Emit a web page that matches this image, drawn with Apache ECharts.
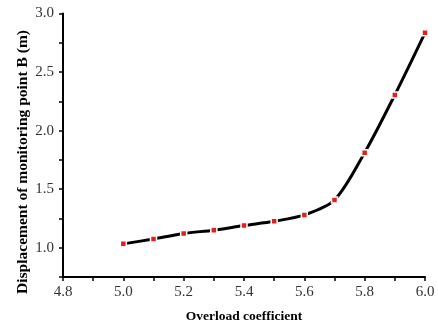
<!DOCTYPE html>
<html>
<head>
<meta charset="utf-8">
<script src="https://cdn.jsdelivr.net/npm/echarts@6/dist/echarts.min.js"></script>
<style>html,body{margin:0;padding:0;background:#fff}#c{width:438px;height:329px}</style>
</head>
<body>
<div id="c"></div>
<script>
var overload = [5.0, 5.1, 5.2, 5.3, 5.4, 5.5, 5.6, 5.7, 5.8, 5.9, 6.0];
var displacement = [1.033, 1.075, 1.122, 1.15, 1.19, 1.226, 1.28, 1.407, 1.812, 2.305, 2.835];
var xTitle = 'Overload coefficient';
var yTitle = 'Displacement of monitoring point B (m)';

var chart = echarts.init(document.getElementById('c'), null, {renderer: 'canvas'});
var font = 'Liberation Serif';
chart.setOption({
  animation: false,
  grid: {left: 63, right: 13, top: 13.5, bottom: 46},
  graphic: [{
    type: 'text', x: 23, y: 162, rotation: Math.PI / 2,
    style: {text: yTitle, font: 'bold 15.5px "Liberation Serif"', fill: '#000',
      textAlign: 'center', textVerticalAlign: 'middle'}
  }],
  xAxis: {
    type: 'value', min: 4.8, max: 6.0, interval: 0.1,
    name: xTitle, nameLocation: 'middle', nameGap: 33,
    nameTextStyle: {fontFamily: font, fontWeight: 'bold', fontSize: 13.5, color: '#000'},
    axisLine: {lineStyle: {color: '#000', width: 2}},
    axisTick: {length: 4, lineStyle: {color: '#000', width: 1.5}},
    splitLine: {show: false},
    axisLabel: {fontFamily: font, fontSize: 15, color: '#333', margin: 8,
      formatter: function (v) { var k = Math.round(v * 10); return k % 2 === 0 ? (k / 10).toFixed(1) : ''; }}
  },
  yAxis: {
    type: 'value', min: 0.75, max: 3.0, interval: 0.25,
    axisLine: {show: true, lineStyle: {color: '#000', width: 2}},
    axisTick: {show: true, length: 4, lineStyle: {color: '#000', width: 1.5}},
    splitLine: {show: false},
    axisLabel: {fontFamily: font, fontSize: 15, color: '#333', margin: 9,
      formatter: function (v) { var k = Math.round(v * 4); return k % 2 === 0 ? v.toFixed(1) : ''; }}
  },
  series: [{
    type: 'line',
    data: overload.map(function (x, i) { return [x, displacement[i]]; }),
    smooth: 0.3,
    symbol: 'rect', symbolSize: 6,
    itemStyle: {color: '#e0201c', borderColor: '#fff', borderWidth: 1.5},
    lineStyle: {color: '#000', width: 3},
    clip: false
  }]
});
</script>
</body>
</html>
